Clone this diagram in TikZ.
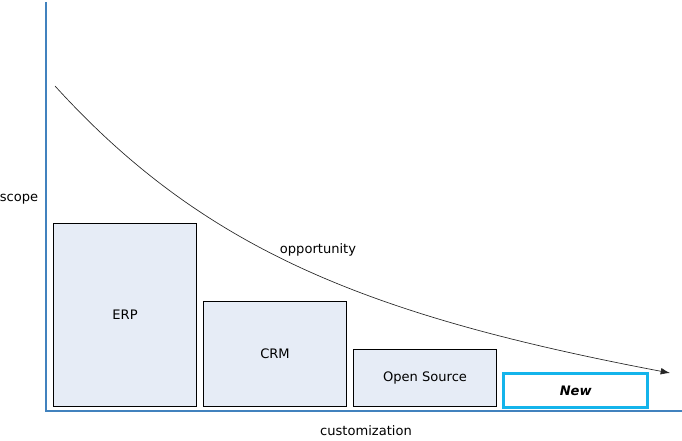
\documentclass[tikz,border=0pt]{standalone}
\usepackage{fontspec}
\setmainfont{DejaVu Sans}
\usetikzlibrary{arrows.meta}
\definecolor{axisblue}{RGB}{65,130,190}
\definecolor{boxfill}{RGB}{230,236,246}
\definecolor{newcyan}{RGB}{20,180,235}
\begin{document}
\begin{tikzpicture}[
  x=0.75pt, y=-0.75pt,
  every node/.style = {font=\fontsize{9.8}{11}\selectfont},
  market/.style = {draw=black, fill=boxfill, line width=0.8pt, anchor=north west, inner sep=0pt},
  newmarket/.style = {draw=newcyan, fill=white, line width=2.6pt, anchor=north west, inner sep=0pt},
  ]
  \useasboundingbox (0,0) rectangle (682,441);

  \coordinate (origin) at (46,411);
  \coordinate (ytop) at (46,2);
  \coordinate (xend) at (682,411);
  \draw[axisblue, line width=1.6pt] (ytop) -- (origin) -- (xend); % axes

  \node (scope) at (19,199) {scope};
  \node (custom) at (366,431) {customization};

  \node[market, minimum width=143*0.75pt, minimum height=183*0.75pt] (erp) at (53,223) {};
  \node at (erp.center) {ERP};
  \node[market, minimum width=143*0.75pt, minimum height=105*0.75pt] (crm) at (203,301) {};
  \node at (crm.center) {CRM};
  \node[market, minimum width=143*0.75pt, minimum height=57*0.75pt] (oss) at (353,349) {};
  \node at (oss.center) {Open Source};
  \node[newmarket, minimum width=144*0.75pt, minimum height=34*0.75pt] (new) at (502,372) {};
  \node at (new.center) {\bfseries\itshape New};

  \coordinate (cstart) at (55,86);
  \coordinate (cend) at (670,373);
  \draw[black!85, line width=0.5pt, -{Latex[length=7pt,width=5pt]}]
    (cstart) .. controls (205,251) and (370,316) .. (cend);
  \node (opp) at (318,250) {opportunity};

\end{tikzpicture}
\end{document}
